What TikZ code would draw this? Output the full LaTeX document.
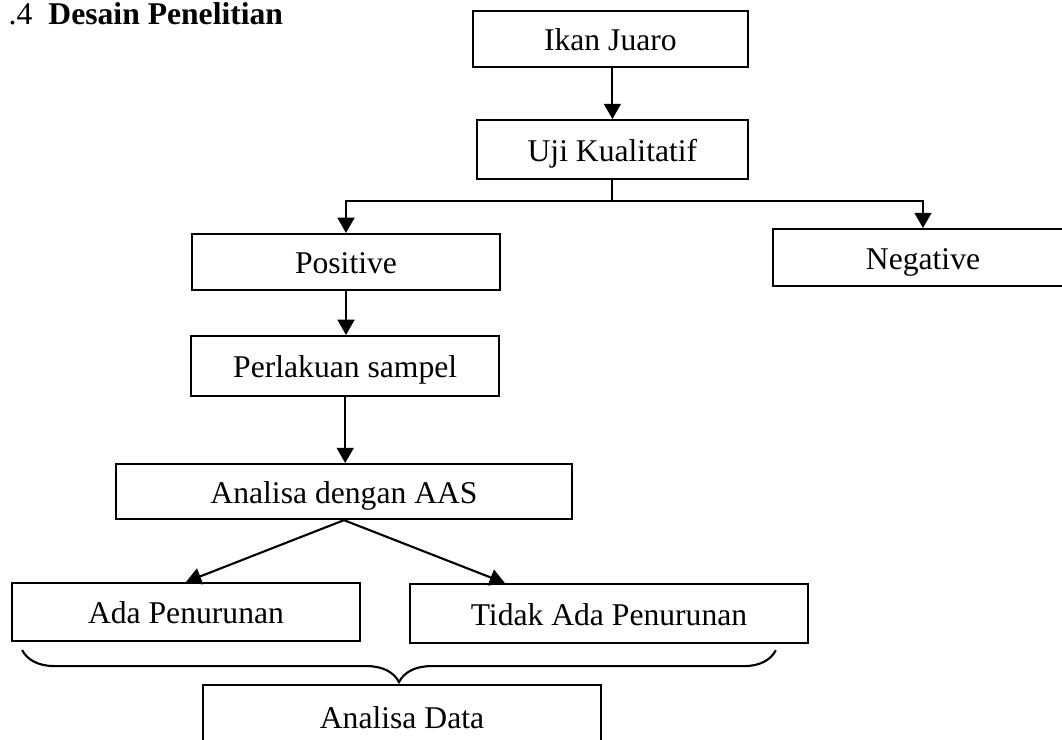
\documentclass[tikz,border=0pt]{standalone}
\usepackage{fontspec}
\setmainfont{Liberation Serif}
\usepackage{tikz}
\usetikzlibrary{positioning,calc,arrows.meta,decorations.pathreplacing}

\begin{document}
\begin{tikzpicture}[
    font=\fontsize{22.5}{27}\selectfont,
    line width=1.5pt,
    box/.style={draw, inner sep=0pt, text height=21pt, text depth=4.5pt},
    >={Triangle[length=0.38cm,width=0.42cm]}
]
    \useasboundingbox (0,0) rectangle (26.55,-18.5);

    % Title
    \node[anchor=base west] (judul) at (0.075,-0.6) {.4\hspace{0.4cm}\textbf{Desain Penelitian}};

    % Boxes
    \node[box, minimum width=6.875cm, minimum height=1.4cm] (ikan) at (15.26,-0.975) {Ikan Juaro};
    \node[box, minimum width=6.775cm, minimum height=1.475cm] (uji) at (15.31,-3.74) {Uji Kualitatif};
    \node[box, minimum width=7.7cm, minimum height=1.4cm] (pos) at (8.65,-6.55) {Positive};
    \node[box, minimum width=7.5cm, minimum height=1.425cm] (neg) at (23.075,-6.44) {Negative};
    \node[box, minimum width=7.7cm, minimum height=1.5cm] (perl) at (8.63,-9.15) {Perlakuan sampel};
    \node[box, minimum width=11.4cm, minimum height=1.375cm] (aas) at (8.6,-12.29) {Analisa dengan AAS};
    \node[box, minimum width=8.7cm, minimum height=1.45cm] (ada) at (4.65,-15.3) {Ada Penurunan};
    \node[box, minimum width=9.95cm, minimum height=1.475cm] (tidak) at (15.225,-15.34) {Tidak Ada Penurunan};
    \node[box, minimum width=9.95cm, minimum height=1.6cm] (data) at (10.05,-17.925) {Analisa Data};

    % Arrows
    \draw[->] (uji.north |- ikan.south) -- (uji.north);
    \draw (uji.south) -- ++(0,-0.52) coordinate (split);
    \draw[->] (split) -| (pos.north);
    \draw[->] (split) -| (neg.north);
    \draw[->] (pos.south) -- (pos.south |- perl.north);
    \draw[->] (perl.south) -- (perl.south |- aas.north);
    \draw[->] (aas.south) -- (ada.north);
    \draw[->] (aas.south) -- ([xshift=2.4cm]tidak.north west);

    % Brace
    \draw[decorate, decoration={brace, mirror, amplitude=0.8cm}]
        ([xshift=0.28cm,yshift=-0.2cm]ada.south west) -- ([xshift=-0.83cm,yshift=-0.15cm]tidak.south east);
\end{tikzpicture}
\end{document}
